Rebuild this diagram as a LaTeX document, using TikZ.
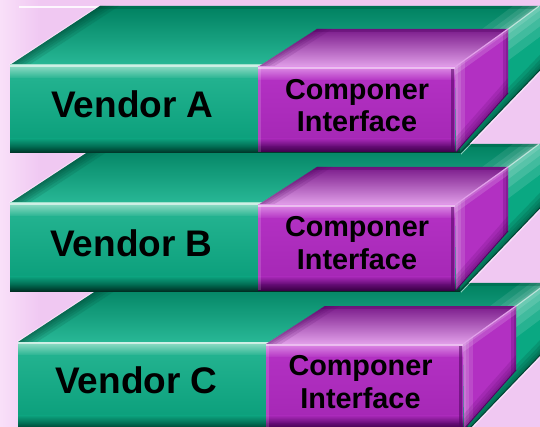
\documentclass[tikz,border=0pt]{standalone}
\usepackage{fontspec}
\setmainfont{Liberation Sans}
\begin{document}
\begin{tikzpicture}[x=1pt,y=-1pt,
  vlabel/.style={font=\fontsize{37}{40}\selectfont\bfseries, text=black, inner sep=0pt, anchor=base},
  clabel/.style={font=\fontsize{28.8}{32}\selectfont\bfseries, text=black, inner sep=0pt, anchor=base}]
% palette
\definecolor{bgpink}{RGB}{240,200,242}
\definecolor{bglight}{RGB}{249,224,249}
\definecolor{gback}{RGB}{0,128,96}
\definecolor{gbase}{RGB}{10,168,130}
\definecolor{gfront}{RGB}{40,184,150}
\definecolor{gdeep}{RGB}{0,70,52}
\definecolor{gf0}{RGB}{150,222,200}
\definecolor{gf1}{RGB}{34,178,143}
\definecolor{gf2}{RGB}{12,160,124}
\definecolor{gf3}{RGB}{0,100,76}
\definecolor{gf4}{RGB}{0,48,36}
\definecolor{pback}{RGB}{122,26,138}
\definecolor{pmid}{RGB}{182,80,198}
\definecolor{plight}{RGB}{226,160,234}
\definecolor{pmain}{RGB}{178,48,194}
\definecolor{pf0}{RGB}{222,140,230}
\definecolor{pf2}{RGB}{166,40,182}
\definecolor{pf3}{RGB}{100,12,116}
\definecolor{pf4}{RGB}{60,0,72}
\definecolor{pdeep}{RGB}{80,4,96}

% one vendor layer: a green slab carrying a purple component block
\newcommand{\vendorlayer}[2]{%
\begin{scope}[shift={(#1,#2)}]
  % light rim behind the back edge
  \draw[white, line width=1.4, opacity=.85] (19,7) -- (98,7);
  % green slab: top face
  \shade[top color=gback, middle color=gbase, bottom color=gfront]
    (10,65) -- (100,6) -- (539,6) -- (460,65) -- cycle;
  \begin{scope}
    \clip (10,65) -- (100,6) -- (539,6) -- (460,65) -- cycle;
    \foreach \w in {3,6,10,14,19}
      \fill[gdeep, opacity=.15] (10,65) -- (100,6) -- (100+\w,6) -- (10+\w,65) -- cycle;
    \foreach \w in {4,9,16,26}
      \fill[white, opacity=.09] (460,65) -- (539,6) -- (539-\w,6) -- (460-\w,65) -- cycle;
    \fill[gdeep, opacity=.25] (0,6) rectangle (560,9);
  \end{scope}
  \draw[white, opacity=.5, line width=.8] (9.5,64.5) -- (99.5,5.5);
  % green slab: right face
  \fill[gbase] (460,65) -- (539,6) -- (560,6) -- (560,49) -- (460,153) -- cycle;
  \begin{scope}
    \clip (460,65) -- (539,6) -- (560,6) -- (560,49) -- (460,153) -- cycle;
    \foreach \w in {3,7,12,18}
      \fill[white, opacity=.12] (460,65) -- (539,6) -- (539+\w,6+\w) -- (460+\w,65+\w) -- cycle;
    \foreach \w in {3,6,10,15}
      \fill[gdeep, opacity=.18] (460,153) -- (560,49) -- (560,49-\w) -- (460,153-\w) -- cycle;
  \end{scope}
  \draw[white, opacity=.55, line width=1.2] (460,65) -- (539,6);
  \draw[gdeep, line width=1] (460,153) -- (560,49);
  \draw[white, opacity=.6, line width=.8] (461,154.2) -- (561,50.2);
  % green slab: front face
  \shade[top color=gf0, bottom color=gf1] (10,65) rectangle (460,79);
  \shade[top color=gf1, bottom color=gf2] (10,78.7) rectangle (460,139);
  \shade[top color=gf2, bottom color=gf3] (10,138.7) rectangle (460,147.5);
  \shade[top color=gf3, bottom color=gf4] (10,147.2) rectangle (460,153);
  \fill[white, opacity=.55] (10,65) rectangle (460,67);
  % purple block: top face
  \shade[top color=pback, middle color=pmid, bottom color=plight]
    (258,67) -- (317,29) -- (508,29) -- (455,67) -- cycle;
  \begin{scope}
    \clip (258,67) -- (317,29) -- (508,29) -- (455,67) -- cycle;
    \foreach \w in {3,6,10,15}
      \fill[pdeep, opacity=.14] (258,67) -- (317,29) -- (317+\w,29) -- (258+\w,67) -- cycle;
    \fill[pdeep, opacity=.3] (250,29) rectangle (510,32);
  \end{scope}
  % purple block: right face
  \fill[pmain] (455,67) -- (508,29) -- (508,93) -- (456,152) -- cycle;
  \begin{scope}
    \clip (455,67) -- (508,29) -- (508,93) -- (456,152) -- cycle;
    \foreach \w in {3,6,10}
      \fill[white, opacity=.13] (450,20) rectangle (455+\w,160);
    \foreach \w in {2,5}
      \fill[pdeep, opacity=.25] (508-\w,20) rectangle (510,160);
    \foreach \w in {3,6,10,15}
      \fill[pdeep, opacity=.15] (456,152) -- (508,93) -- (508,93-\w) -- (456,152-\w) -- cycle;
    \foreach \w in {3,8}
      \fill[white, opacity=.15] (455,67) -- (508,29) -- (508,29+\w) -- (455,67+\w) -- cycle;
  \end{scope}
  \draw[plight, line width=1.2] (455,67) -- (508,29);
  \draw[pdeep, line width=.9] (456,152) -- (508,93);
  % purple block: front face
  \shade[top color=pf0, bottom color=pmain] (258,67) rectangle (455,81);
  \shade[top color=pmain, bottom color=pf2] (258,80.7) rectangle (455,139);
  \shade[top color=pf2, bottom color=pf3] (258,138.7) rectangle (455,146.5);
  \shade[top color=pf3, bottom color=pf4] (258,146.2) rectangle (455,152);
  \fill[white, opacity=.45] (258,67) rectangle (455,69);
  \fill[white, opacity=.15] (258,67) rectangle (261,152);
  \fill[pdeep, opacity=.55] (451,69) rectangle (454,150);
\end{scope}}

\useasboundingbox (0,0) rectangle (540,427);
\clip (0,0) rectangle (540,427);
% background
\fill[bgpink] (0,0) rectangle (540,427);
\shade[left color=bglight, right color=bgpink] (0,0) rectangle (40,427);

% layers, back to front
\vendorlayer{8}{277}
\vendorlayer{0}{138}
\vendorlayer{0}{0}

% labels
\node[vlabel] (vendA) at (132.5,118) {Vendor A};
\node[vlabel] (vendB) at (131.5,257) {Vendor B};
\node[vlabel] (vendC) at (136.5,393) {Vendor C};
\node[clabel] (compA1) at (357,100) {Componer};
\node[clabel] (compA2) at (357,132) {Interface};
\node[clabel] (compB1) at (357,237) {Componer};
\node[clabel] (compB2) at (357,270) {Interface};
\node[clabel] (compC1) at (360.5,375) {Componer};
\node[clabel] (compC2) at (360.5,408) {Interface};
\end{tikzpicture}
\end{document}
